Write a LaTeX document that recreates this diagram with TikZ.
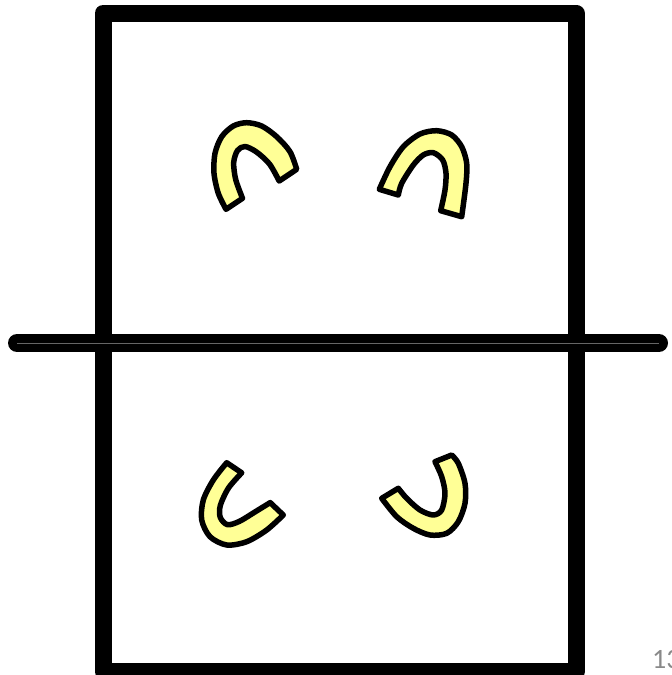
\documentclass[tikz,border=0pt]{standalone}
\usepackage{fontspec}
\newfontfamily\slidefont{Carlito}
\definecolor{shoefill}{RGB}{255,255,150}
\definecolor{pagegray}{RGB}{137,137,137}
\begin{document}
\begin{tikzpicture}[x=1pt,y=-1pt,
  frame/.style={line width=17pt, line join=round},
  bar/.style={line width=18pt, line cap=round},
  shoe/.style={draw=black, line width=5.5pt, line join=round, fill=shoefill}]
\useasboundingbox (0,0) rectangle (672,675);
\draw[frame] (103,13) rectangle (576,671);
\draw[bar] (17,343) -- (659,343);
\draw[black!60, line width=1pt] (17,343) -- (659,343);
% top-left
\draw[shoe] plot[smooth] coordinates {(226,209.3) (218.3,193.3) (214,173.3) (215,153.3) (221.7,136.7) (233.3,126) (246.7,122.7) (261.7,126) (276.7,136.7) (290,151.7) (296.7,169.3)}
  -- plot[smooth] coordinates {(279.2,181) (269.5,164) (256.5,152) (245,146.5) (237.5,150.5) (233.7,162.5) (235.7,179.5) (242.5,198.3)} -- cycle;
% top-right
\draw[shoe] plot[smooth] coordinates {(379.3,189.3) (390,166.7) (403.3,146.7) (420,134) (436.7,130.7) (451.7,135) (461.7,146.7) (466.7,163.3) (466,183.3) (461.7,216.7)}
  -- plot[smooth] coordinates {(440.7,210.7) (445,190) (446,173.3) (442.7,160) (433.3,152.7) (423.3,155) (413.3,165) (401.7,183.3) (398.3,195)} -- cycle;
% bottom-left
\draw[shoe] plot[smooth] coordinates {(226.7,462.7) (213.3,480) (203.3,500) (201.7,520) (210,536.7) (226.7,545) (246.7,541.7) (266.7,530) (283.3,515)}
  -- plot[smooth] coordinates {(270.2,502.6) (255.7,511.5) (239.5,521.3) (227.5,524.7) (220.3,517.5) (220.3,505.5) (228.5,488) (241.7,472.8)} -- cycle;
% bottom-right
\draw[shoe] plot[smooth] coordinates {(381.7,498.3) (396.7,516.7) (413.3,528.3) (430,535) (446.7,533.3) (458.3,521.7) (465,503.3) (465,483.3) (458.3,463.3) (451.7,455)}
  -- plot[smooth] coordinates {(435,461.7) (441.7,476.7) (445,493.3) (441.7,510) (433.3,515) (420,510) (406.7,498.3) (398.3,488.3)} -- cycle;
\node[text=pagegray, font=\slidefont\fontsize{28}{28}\selectfont, anchor=base west, inner sep=0pt] (pagenum) at (652,668) {13};
\end{tikzpicture}
\end{document}
